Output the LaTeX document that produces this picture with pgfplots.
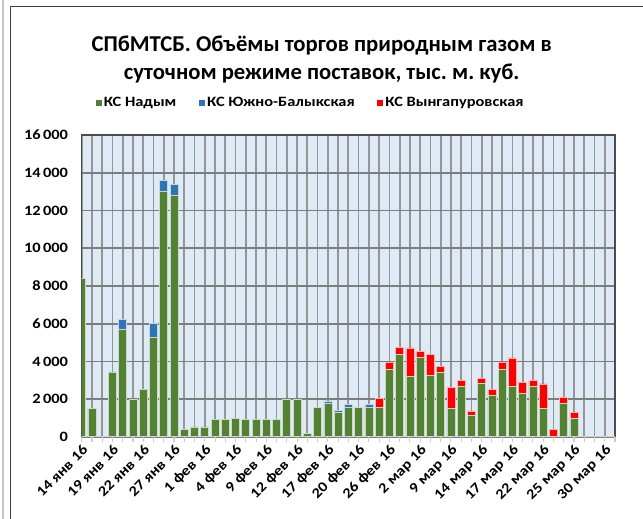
\documentclass[border=0pt]{standalone}
\usepackage{fontspec}
\setmainfont{Carlito}
\newfontfamily\lbl[FakeStretch=1.15]{Carlito}
\usepackage{pgfplots}
\pgfplotsset{compat=1.18}
\usepackage{pgfplotstable}
\frenchspacing

\definecolor{nadym}{RGB}{84,130,53}
\definecolor{yuzh}{RGB}{46,117,182}
\definecolor{vyng}{RGB}{255,0,0}
\definecolor{bgblue}{RGB}{222,235,247}
\definecolor{vgrid}{RGB}{150,150,150}
\definecolor{hgrid}{RGB}{125,125,125}

% trading days 14 Jan - 31 Mar 2016; g = Nadym, b = Yuzhno-Balykskaya, r = Vyngapurovskaya
\pgfplotstableread{
x g b r
0 8400 0 0
1 1500 0 0
2 0 0 0
3 3450 0 0
4 5700 530 0
5 2000 0 0
6 2500 0 0
7 5300 720 0
8 13000 600 0
9 12800 600 0
10 390 0 0
11 530 0 0
12 530 0 0
13 920 0 0
14 920 0 0
15 990 0 0
16 920 0 0
17 920 0 0
18 920 0 0
19 920 0 0
20 2000 0 0
21 2000 0 0
22 190 0 0
23 1580 0 0
24 1770 140 0
25 1330 70 0
26 1575 140 0
27 1575 0 0
28 1575 140 0
29 1575 0 460
30 3590 0 340
31 4390 0 340
32 3220 0 1500
33 4200 0 330
34 3270 0 1100
35 3400 0 340
36 1520 0 1100
37 2690 0 320
38 1130 0 250
39 2830 0 250
40 2210 0 290
41 3590 0 340
42 2690 0 1500
43 2300 0 580
44 2690 0 320
45 1500 0 1310
46 0 0 390
47 1770 0 340
48 990 0 320
49 0 0 0
50 0 0 0
51 0 0 0
52 0 0 0
}\gasdata

\begin{document}
\begin{tikzpicture}
\path[use as bounding box] (-61.3pt,-61.5pt) rectangle (421pt,327.75pt);
\begin{axis}[
  at={(0,0)}, anchor=south west,
  scale only axis, width=400pt, height=226.5pt,
  ybar stacked, bar width=0.78,
  xmin=0, xmax=52, ymin=0, ymax=16000,
  axis background/.style={fill=bgblue},
  axis line style={black!70, line width=0.8pt},
  xtick={0,3,...,51},
  minor xtick={0,1,...,52},
  xticklabels={14 янв 16,19 янв 16,22 янв 16,27 янв 16,1 фев 16,4 фев 16,9 фев 16,12 фев 16,17 фев 16,20 фев 16,26 фев 16,2 мар 16,9 мар 16,14 мар 16,17 мар 16,22 мар 16,25 мар 16,30 мар 16},
  ytick={0,2000,...,16000},
  scaled y ticks=false,
  /pgf/number format/1000 sep={\,},
  /pgf/number format/assume math mode=true,
  y tick label style={xshift=-3pt},
  xtick pos=bottom, ytick pos=left,
  tick align=outside, major tick length=3.75pt, minor tick length=3.75pt,
  x tick style={gray!40, line width=0.8pt},
  y tick style={draw=none},
  every tick label/.append style={font=\lbl\bfseries\fontsize{10.7}{13}\selectfont, black},
  x tick label style={rotate=45, anchor=north east, inner sep=1pt},
  xmajorgrids=false, xminorgrids=true, ymajorgrids=true,
  minor x grid style={vgrid, line width=1.3pt},
  major y grid style={hgrid, line width=1.3pt},
  legend columns=3,
  legend style={draw=none, fill=none, at={(0.43,1.107)}, anchor=center,
    font=\lbl\bfseries\fontsize{10.7}{13}\selectfont,
    /tikz/every even column/.append style={column sep=15pt}},
]
\addplot[fill=nadym, draw=white!70!nadym, line width=0.5pt,
  legend image code/.code={\fill[nadym] (0pt,-1.8pt) rectangle (3.6pt,1.8pt);}]
  table[x=x, y=g] {\gasdata};
\addlegendentry{КС Надым}
\addplot[fill=yuzh, draw=white!70!yuzh, line width=0.5pt,
  legend image code/.code={\fill[yuzh] (0pt,-1.8pt) rectangle (3.6pt,1.8pt);}]
  table[x=x, y=b] {\gasdata};
\addlegendentry{КС Южно-Балыкская}
\addplot[fill=vyng, draw=white!70!vyng, line width=0.5pt,
  legend image code/.code={\fill[vyng] (0pt,-1.8pt) rectangle (3.6pt,1.8pt);}]
  table[x=x, y=r] {\gasdata};
\addlegendentry{КС Вынгапуровская}
\end{axis}
\draw[gray!35, line width=0.8pt] (0,0) -- (400pt,0);
\draw[black!75, line width=0.75pt] (-53.4pt,-70pt) -- (-53.4pt,322.5pt) -- (430pt,322.5pt);
\draw[gray!45, line width=1.2pt] (-59pt,-70pt) -- (-59pt,330pt);
\node[font=\bfseries\fontsize{17}{21}\selectfont, align=center] at (180pt,283.5pt)
  {СПбМТСБ. Объёмы торгов природным газом в\\суточном режиме поставок, тыс. м. куб.};
\end{tikzpicture}
\end{document}
